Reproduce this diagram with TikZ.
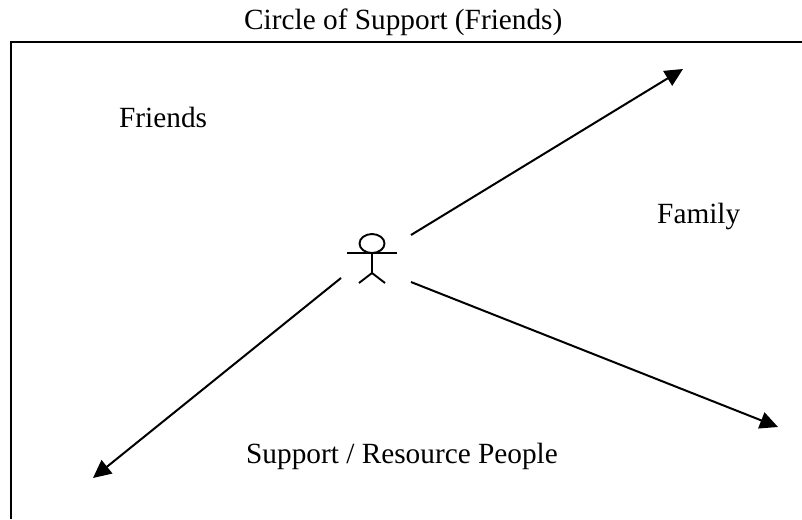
\documentclass[tikz,border=0pt]{standalone}
\usepackage{fontspec}
\setmainfont{Liberation Serif}
\usetikzlibrary{arrows.meta,shapes.geometric}
\tikzset{
  lbl/.style={inner sep=0pt,anchor=base west,font=\fontsize{29.3}{34}\selectfont},
  line/.style={draw=black,line width=2pt},
  arrowline/.style={draw=black,line width=2pt,-{Triangle[length=18pt,width=17pt]}},
  figline/.style={draw=black,line width=1.9pt}
}
\begin{document}
\begin{tikzpicture}[x=1pt,y=-1pt]
\useasboundingbox (0,0) rectangle (802,519);
\node[lbl] (title) at (244,30) {Circle of Support (Friends)};
\node[lbl] (friends) at (119,127) {Friends};
\node[lbl] (family) at (657,223) {Family};
\node[lbl] (support) at (246,463) {Support / Resource People};
\coordinate (tl) at (11,42);
\coordinate (tr) at (802,42);
\coordinate (bl) at (11,519);
\draw[line] (tr) -- (tl) -- (bl);
\node[draw=black,line width=1.9pt,ellipse,minimum width=25pt,minimum height=19pt,inner sep=0pt] (head) at (372,243.5) {};
\coordinate (armL) at (347,253);
\coordinate (armR) at (397,253);
\coordinate (hip) at (372,273);
\coordinate (neck) at (372,253);
\coordinate (legL) at (359,283);
\coordinate (legR) at (385,283);
\draw[figline] (armL) -- (armR);
\draw[figline] (neck) -- (hip);
\draw[figline] (legL) -- (hip) -- (legR);
\coordinate (a1s) at (411,235);
\coordinate (a1e) at (683,69);
\coordinate (a2s) at (341,278);
\coordinate (a2e) at (93,478);
\coordinate (a3s) at (411,282);
\coordinate (a3e) at (778,427);
\draw[arrowline] (a1s) -- (a1e);
\draw[arrowline] (a2s) -- (a2e);
\draw[arrowline] (a3s) -- (a3e);
\end{tikzpicture}
\end{document}
